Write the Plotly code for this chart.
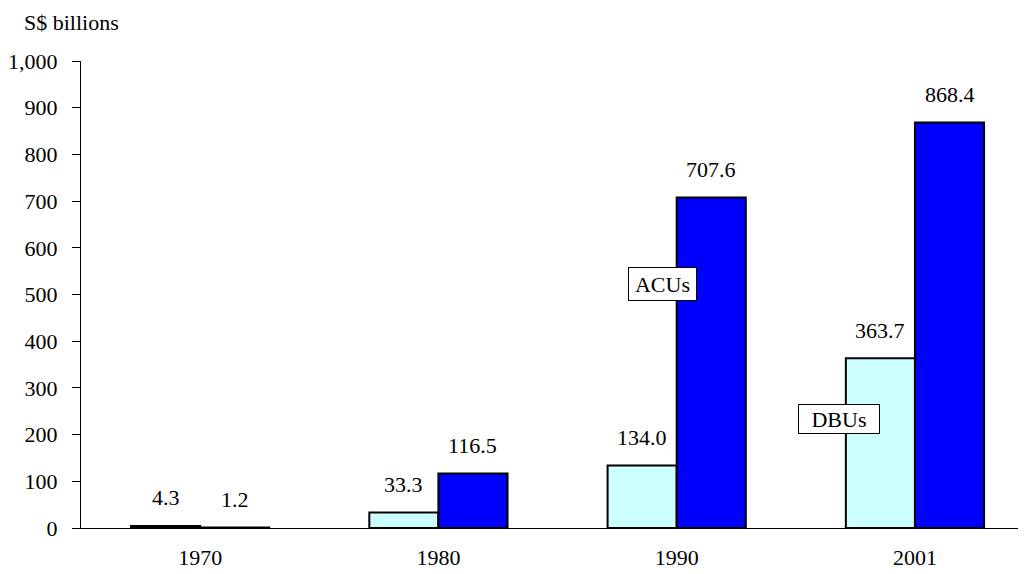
import plotly.graph_objects as go

years = ["1970", "1980", "1990", "2001"]
dbus = [4.3, 33.3, 134.0, 363.7]
acus = [1.2, 116.5, 707.6, 868.4]
y_ticks = [0, 100, 200, 300, 400, 500, 600, 700, 800, 900, 1000]
y_tick_labels = ["0", "100", "200", "300", "400", "500", "600", "700", "800", "900", "1,000"]

FONT = "Liberation Serif, Times New Roman, serif"
FS = 22

fig = go.Figure()
fig.add_trace(go.Bar(x=years, y=dbus, name="DBUs", marker=dict(color="#CCFFFF", line=dict(color="black", width=2))))
fig.add_trace(go.Bar(x=years, y=acus, name="ACUs", marker=dict(color="#0000FF", line=dict(color="black", width=2))))

off = 0.145
for i, (d, a) in enumerate(zip(dbus, acus)):
    fig.add_annotation(x=i - off, y=d, text=f"{d:.1f}", showarrow=False, yshift=28,
                       font=dict(family=FONT, size=FS, color="black"))
    fig.add_annotation(x=i + off, y=a, text=f"{a:.1f}", showarrow=False, yshift=28,
                       font=dict(family=FONT, size=FS, color="black"))

fig.add_annotation(x=1.939, y=522, text="ACUs", showarrow=False, bordercolor="black", borderwidth=1,
                   bgcolor="white", borderpad=2, width=63, height=28,
                   font=dict(family=FONT, size=FS, color="black"))
fig.add_annotation(x=2.68, y=233, text="DBUs", showarrow=False, bordercolor="black", borderwidth=1,
                   bgcolor="white", borderpad=2, width=76, height=24,
                   font=dict(family=FONT, size=FS, color="black"))

fig.add_annotation(x=0, xref="paper", xanchor="left", y=1.0, yref="paper", yanchor="middle", yshift=39,
                   xshift=-59, text="S$ billions", showarrow=False,
                   font=dict(family=FONT, size=FS, color="black"))

# small extension of the value axis below the category axis
fig.add_shape(type="line", xref="paper", x0=0, x1=0, yref="y", ysizemode="pixel", yanchor=0,
              y0=0, y1=-7, line=dict(color="black", width=1))

fig.update_layout(
    width=1018, height=566,
    margin=dict(l=73, r=0, t=53, b=46),
    paper_bgcolor="white", plot_bgcolor="white",
    barmode="group", bargap=0.42, bargroupgap=0,
    showlegend=False,
    font=dict(family=FONT, size=FS, color="black"),
    xaxis=dict(range=[-0.5, 3.466], showline=True, linecolor="black", linewidth=1, ticks="",
               showgrid=False, tickfont=dict(family=FONT, size=FS), zeroline=False,
               ticklabelstandoff=10),
    yaxis=dict(range=[0, 1000], tickvals=y_ticks, ticktext=y_tick_labels, showline=True,
               linecolor="black", linewidth=1, ticks="outside", ticklen=8, tickcolor="black",
               showgrid=False, zeroline=False, tickfont=dict(family=FONT, size=FS),
               ticklabelstandoff=10),
)

fig.write_html("out.html")
